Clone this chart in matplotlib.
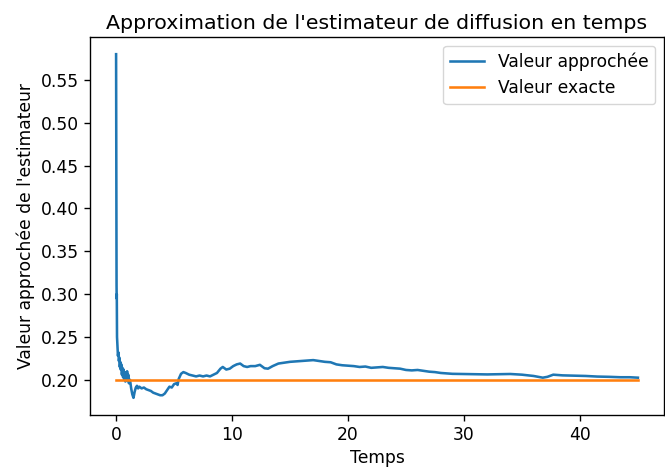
import matplotlib
matplotlib.use('Agg')
import matplotlib.pyplot as plt

# time points and approximated estimator values
temps = [0.0, 0.01, 0.02, 0.03, 0.04, 0.05, 0.06, 0.07, 0.08, 0.10,
         0.13, 0.16, 0.20, 0.24, 0.28, 0.32, 0.36, 0.40, 0.45, 0.50,
         0.55, 0.60, 0.65, 0.70, 0.75, 0.80, 0.85, 0.90, 0.95, 1.00,
         1.05, 1.10, 1.20, 1.30, 1.40, 1.50, 1.60, 1.70, 1.80, 1.90,
         2.0, 2.2, 2.4, 2.6, 2.8, 3.0, 3.2, 3.4, 3.6, 3.8,
         4.0, 4.2, 4.4, 4.6, 4.8, 5.0, 5.2, 5.3, 5.4, 5.6,
         5.8, 6.0, 6.3, 6.6, 6.9, 7.2, 7.5, 7.8, 8.1, 8.4,
         8.7, 9.0, 9.2, 9.5, 9.8, 10.1, 10.4, 10.7, 11.0, 11.3,
         11.6, 12.0, 12.4, 12.8, 13.1, 13.5, 14.0, 14.5, 15.0, 15.5,
         16.0, 16.5, 17.0, 17.5, 18.0, 18.5, 19.0, 19.5, 20.0, 20.5,
         21.0, 21.5, 22.0, 22.5, 23.0, 23.5, 24.0, 24.5, 25.0, 25.5,
         26.0, 26.5, 27.0, 27.5, 28.0, 28.5, 29.0, 30.0, 31.0, 32.0,
         33.0, 34.0, 35.0, 36.0, 36.8, 37.2, 37.7, 38.5, 39.5, 40.5,
         41.5, 42.5, 43.5, 44.3, 45.0]
valeur_approchee = [0.580, 0.500, 0.430, 0.360, 0.310, 0.295, 0.300, 0.270, 0.250, 0.244,
                    0.236, 0.228, 0.232, 0.222, 0.226, 0.215, 0.221, 0.212, 0.218, 0.206,
                    0.214, 0.203, 0.212, 0.200, 0.209, 0.198, 0.207, 0.202, 0.210, 0.199,
                    0.206, 0.196, 0.200, 0.190, 0.183, 0.179, 0.186, 0.191, 0.193, 0.190,
                    0.192, 0.190, 0.191, 0.189, 0.188, 0.187, 0.185, 0.184, 0.183, 0.182,
                    0.182, 0.184, 0.188, 0.192, 0.191, 0.195, 0.196, 0.194, 0.201, 0.207,
                    0.209, 0.208, 0.206, 0.205, 0.204, 0.205, 0.204, 0.205, 0.204, 0.206,
                    0.208, 0.213, 0.215, 0.212, 0.213, 0.216, 0.218, 0.219, 0.216, 0.215,
                    0.216, 0.216, 0.2175, 0.2135, 0.213, 0.216, 0.219, 0.220, 0.221, 0.2215,
                    0.222, 0.2225, 0.223, 0.222, 0.221, 0.2205, 0.218, 0.217, 0.2165, 0.216,
                    0.215, 0.2155, 0.214, 0.2145, 0.215, 0.214, 0.2135, 0.213, 0.2115, 0.211,
                    0.2115, 0.2105, 0.2095, 0.209, 0.208, 0.2075, 0.207, 0.2068, 0.2065, 0.2063,
                    0.2065, 0.2068, 0.206, 0.2045, 0.2025, 0.2035, 0.206, 0.2052, 0.2048, 0.2045,
                    0.2038, 0.2035, 0.2030, 0.2030, 0.2025]

temps_exact = [0.0, 45.0]
valeur_exacte = [0.2, 0.2]

scale = 1.23  # reference was rendered at ~123 dpi

fig = plt.figure(figsize=(6.65, 4.70), dpi=100)
ax = fig.add_axes([90 / 665, 55 / 470, 574 / 665, 378 / 470])

ax.plot(temps, valeur_approchee, lw=1.5 * scale, label='Valeur approchée')
ax.plot(temps_exact, valeur_exacte, lw=1.5 * scale, label='Valeur exacte')

ax.set_title("Approximation de l'estimateur de diffusion en temps", fontsize=12 * scale)
ax.set_xlabel('Temps', fontsize=10 * scale)
ax.set_ylabel("Valeur approchée de l'estimateur", fontsize=10 * scale)
ax.tick_params(labelsize=10 * scale, length=3.5 * scale, width=0.8 * scale)
ax.set_yticks([0.20, 0.25, 0.30, 0.35, 0.40, 0.45, 0.50, 0.55])
ax.legend(loc='upper right', fontsize=10 * scale)
for s in ax.spines.values():
    s.set_linewidth(0.8 * scale)

fig.savefig('out.png', dpi=100)
